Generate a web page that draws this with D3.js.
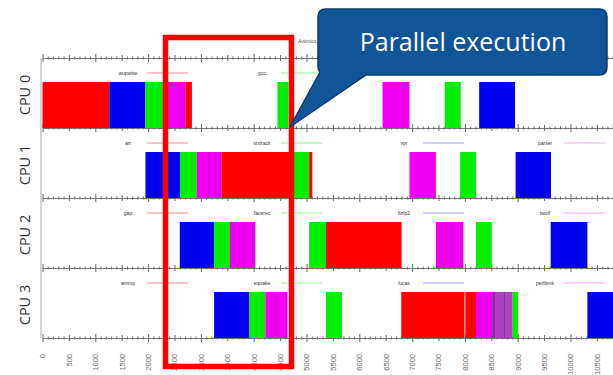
<!DOCTYPE html>
<html>
<head>
<meta charset="utf-8">
<script src="https://cdn.jsdelivr.net/npm/d3@7"></script>
<style>
  body { margin: 0; background: #fff; }
  svg { display: block; font-family: "Liberation Sans", Arial, sans-serif; }
</style>
</head>
<body>
<svg id="chart"></svg>
<script>
// rows of the chart
var cpus = ["CPU 0", "CPU 1", "CPU 2", "CPU 3"];

// bottom tick labels
var xTickLabels = [0, 500, 1000, 1500, 2000, 2500, 3000, 3500, 4000, 4500, 5000,
  5500, 6000, 6500, 7000, 7500, 8000, 8500, 9000, 9500, 10000, 10500];

// segments per cpu : [start, end, kind]
var cpu0 = [[0, 1265, "A"], [1265, 1950, "C"], [1950, 2280, "B"], [2280, 2710, "D"],
  [2710, 2830, "A"], [4450, 4660, "B"], [6440, 6950, "D"], [7620, 7920, "B"], [8270, 8950, "C"]];
var cpu1 = [[1950, 2610, "C"], [2610, 2920, "B"], [2920, 3390, "D"], [3390, 4700, "A"],
  [4700, 5050, "B"], [5050, 5110, "A"], [6950, 7450, "D"], [7910, 8210, "B"], [8960, 9630, "C"]];
var cpu2 = [[2600, 3250, "C"], [3250, 3550, "B"], [3550, 4030, "D"], [5050, 5370, "B"],
  [5370, 6800, "A"], [7450, 7970, "D"], [8210, 8510, "B"], [9625, 10320, "C"]];
var cpu3 = [[3250, 3920, "C"], [3920, 4220, "B"], [4220, 4640, "D"], [5370, 5670, "B"],
  [6795, 7990, "A"], [7990, 8010, "G"], [8010, 8210, "A"], [8210, 8515, "D"], [8515, 8570, "F"],
  [8570, 8725, "E"], [8725, 8760, "F"], [8760, 8905, "E"], [8905, 9010, "B"], [10320, 11300, "C"]];

// legend names per cpu
var legend0 = ["wupwise", "gcc", "mesa", "applu"];
var legend1 = ["art", "sixtrack", "vpr", "parser"];
var legend2 = ["gap", "facerec", "bzip2", "twolf"];
var legend3 = ["ammp", "equake", "lucas", "perlbmk"];

var rows = [cpu0, cpu1, cpu2, cpu3];
var legends = [legend0, legend1, legend2, legend3];

var color = d3.scaleOrdinal()
  .domain(["A", "B", "C", "D", "E", "F", "G"])
  .range(["#ff0000", "#00ee00", "#0000f0", "#f000f0", "#b43cc4", "#7c3a90", "#ff7090"]);
var legendColor = ["#ff0000", "#00dd00", "#3333ff", "#cc44cc"];

var W = 613, H = 375;
var svg = d3.select("#chart").attr("width", W).attr("height", H);
svg.append("rect").attr("width", W).attr("height", H).attr("fill", "#fff");

var x = d3.scaleLinear().domain([0, 11000]).range([42.5, 42.5 + 11000 * 0.0528]);
var y = d3.scaleBand().domain(cpus).range([58, 338]);

// left frame line
svg.append("line")
  .attr("x1", 41).attr("x2", 41).attr("y1", y.range()[0]).attr("y2", y.range()[1])
  .attr("stroke", "#aaa");

// tiny title, mostly under the callout
svg.append("text").attr("x", 298).attr("y", 43)
  .attr("font-size", 5).attr("fill", "#555").text("Avionics");

// crossed tick axes between the rows
var minor = d3.range(0, 11001, 100);
function tickLen(d) { return d % 1000 == 0 ? 4 : (d % 500 == 0 ? 3 : 1.5); }
var axisYs = [y.range()[0]].concat(cpus.map(function (c) { return y(c) + y.bandwidth(); }));
axisYs.forEach(function (ay) {
  var g = svg.append("g")
    .attr("transform", "translate(0," + ay + ")")
    .call(d3.axisBottom(x).tickValues(minor).tickSize(2).tickSizeOuter(0).tickFormat(""));
  g.select(".domain").attr("stroke", "#777");
  g.selectAll(".tick line")
    .attr("y1", function (d) { return -tickLen(d); })
    .attr("y2", function (d) { return tickLen(d); })
    .attr("stroke", "#666");
});

// bottom labels
var gx = svg.append("g")
  .attr("transform", "translate(0," + y.range()[1] + ")")
  .call(d3.axisBottom(x).tickValues(xTickLabels).tickSize(0).tickFormat(d3.format("d")));
gx.select(".domain").remove();
gx.selectAll("text")
  .attr("transform", "rotate(-90)")
  .attr("x", -16).attr("y", 0).attr("dy", "0.32em")
  .style("text-anchor", "end")
  .attr("font-size", 7.5).attr("fill", "#666");

// rows
cpus.forEach(function (c, i) {
  var top = y(c);
  var g = svg.append("g").attr("class", "row");

  g.selectAll("rect")
    .data(rows[i])
    .join("rect")
    .attr("x", function (d) { return x(d[0]); })
    .attr("width", function (d) { return x(d[1]) - x(d[0]); })
    .attr("y", top + 24)
    .attr("height", y.bandwidth() - 24)
    .attr("fill", function (d) { return color(d[2]); });

  var lx = [128, 262, 404, 545];
  legends[i].forEach(function (name, j) {
    g.append("text").attr("x", lx[j]).attr("y", top + 16.5)
      .attr("text-anchor", "middle").attr("font-size", 5).attr("fill", "#333").text(name);
    g.append("line")
      .attr("x1", lx[j] + 19).attr("x2", lx[j] + 60)
      .attr("y1", top + 15).attr("y2", top + 15)
      .attr("stroke", legendColor[j]).attr("stroke-opacity", 0.45).attr("stroke-width", 1);
  });

  svg.append("text")
    .attr("transform", "translate(30," + (top + 37) + ") rotate(-90)")
    .attr("text-anchor", "middle")
    .attr("font-family", "Open Sans, sans-serif")
    .attr("font-size", 14.5).attr("fill", "#333")
    .text(c);
});

// red highlight frame
svg.append("rect")
  .attr("x", 165.5).attr("y", 37.5).attr("width", 126).attr("height", 329)
  .attr("fill", "none").attr("stroke", "#ff0000").attr("stroke-width", 5.5);

// callout
var callout = "M326,9 H599 Q607,9 607,17 V67 Q607,75 599,75 H366 L290,127 L320,72 Q318,70 318,67 V17 Q318,9 326,9 Z";
svg.append("path").attr("d", callout)
  .attr("fill", "#0f5597").attr("stroke", "#0a3d6d").attr("stroke-width", 1.5);
svg.append("text").attr("x", 463).attr("y", 51)
  .attr("text-anchor", "middle")
  .attr("font-family", "Open Sans, sans-serif")
  .attr("font-size", 25).attr("fill", "#fff")
  .text("Parallel execution");
</script>
</body>
</html>
